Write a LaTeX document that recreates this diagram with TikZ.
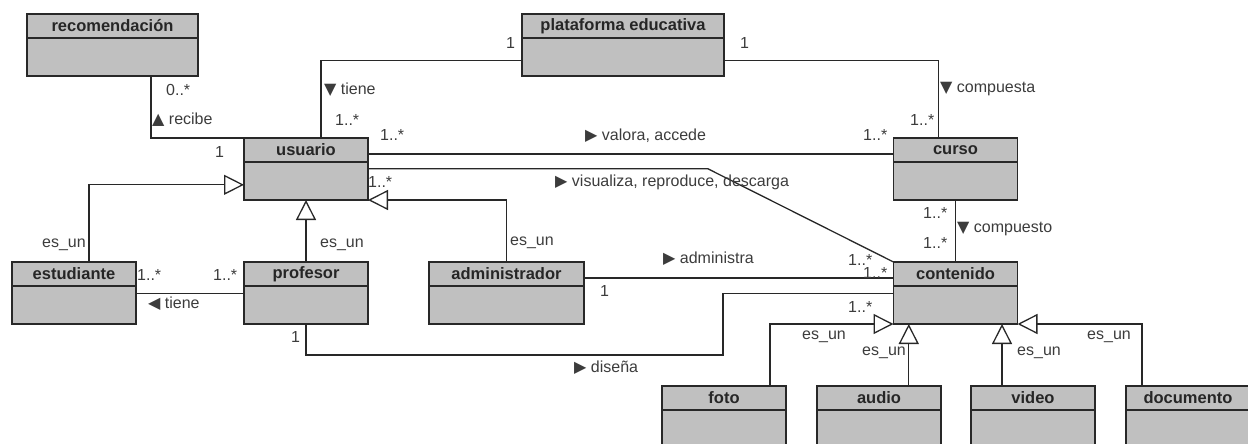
\documentclass[tikz,border=0pt]{standalone}
\usepackage{fontspec}
\setmainfont{Liberation Sans}
\newfontfamily\symfont{DejaVu Sans}
\usetikzlibrary{positioning}
\usetikzlibrary{calc}
\usetikzlibrary{arrows.meta}
\definecolor{boxgray}{RGB}{192,192,192}
\definecolor{linegray}{RGB}{40,40,40}
\definecolor{textgray}{RGB}{60,60,60}
\newcommand{\dirsym}[1]{{\symfont\fontsize{16}{16}\selectfont #1}}

\begin{document}
\begin{tikzpicture}
        [
            x=1pt, y=-1pt,
            head/.style={rectangle, draw=linegray, line width=1.3pt, fill=boxgray, minimum width=124pt, minimum height=24pt, inner sep=0pt, outer sep=0pt, font=\fontsize{16.5}{18}\selectfont\bfseries, text=black!85},
            body/.style={rectangle, draw=linegray, line width=1.3pt, fill=boxgray, minimum width=124pt, minimum height=38pt, outer sep=0pt},
            lbl/.style={anchor=west, inner sep=0pt, font=\fontsize{16}{18}\selectfont, text=textgray},
            assoc/.style={draw=linegray, line width=1.3pt},
            isa/.style={assoc, -{Triangle[open, length=20pt, width=20pt]}}
        ]
        \useasboundingbox (0,0) rectangle (1248,444);
        %nodes
        \node[head, minimum width=171pt] at (112.5,26)    (rec)           {recomendación};
        \node[body, minimum width=171pt, below=0cm of rec] (rec_b)    {};
        \node[head, minimum width=202pt] at (623,26)      (plat)          {plataforma educativa};
        \node[body, minimum width=202pt, below=0cm of plat] (plat_b)  {};
        \node[head] at (306,150)                          (usuario)       {usuario};
        \node[body, below=0cm of usuario]                 (usuario_b)     {};
        \node[head] at (955.5,150)                        (curso)         {curso};
        \node[body, below=0cm of curso]                   (curso_b)       {};
        \node[head] at (74,274)                           (estudiante)    {estudiante};
        \node[body, below=0cm of estudiante]              (estudiante_b)  {};
        \node[head] at (306,274)                          (profesor)      {profesor};
        \node[body, below=0cm of profesor]                (profesor_b)    {};
        \node[head, minimum width=155pt] at (506.5,274)   (admin)         {administrador};
        \node[body, minimum width=155pt, below=0cm of admin] (admin_b) {};
        \node[head] at (955.5,274)                        (contenido)     {contenido};
        \node[body, below=0cm of contenido]               (contenido_b)   {};
        \node[head] at (724,398)                          (foto)          {foto};
        \node[body, below=0cm of foto]                    (foto_b)        {};
        \node[head] at (879,398)                          (audio)         {audio};
        \node[body, below=0cm of audio]                   (audio_b)       {};
        \node[head] at (1033,398)                         (video)         {video};
        \node[body, below=0cm of video]                   (video_b)       {};
        \node[head] at (1188,398)                         (documento)     {documento};
        \node[body, below=0cm of documento]               (documento_b)   {};
        %arrows
        \draw[assoc] ($(rec_b.south west)!0.725!(rec_b.south east)$) |- (usuario.north west);
        \draw[assoc] ($(usuario.north west)!0.62!(usuario.north east)$) |- ($(plat_b.north west)!0.6!(plat_b.south west)$);
        \draw[assoc] ($(plat_b.north east)!0.6!(plat_b.south east)$) -| ($(curso.north west)!0.36!(curso.north east)$);
        \draw[assoc] ($(usuario.north east)!0.67!(usuario.south east)$) -- ($(curso.north west)!0.67!(curso.south west)$);
        \draw[assoc] ($(usuario_b.north east)!0.18!(usuario_b.south east)$) -- ++(340,0) -- (contenido.north west);
        \draw[assoc] ($(estudiante_b.north east)!0.2!(estudiante_b.south east)$) -- ($(profesor_b.north west)!0.2!(profesor_b.south west)$);
        \draw[assoc] ($(admin.north east)!0.67!(admin.south east)$) -- ($(contenido.north west)!0.67!(contenido.south west)$);
        \draw[assoc] (profesor_b.south) -- ++(0,31) -- ++(417,0) |- ($(contenido_b.north west)!0.2!(contenido_b.south west)$);
        \draw[assoc] (curso_b.south) -- (contenido.north);
        \draw[isa] ($(estudiante.north west)!0.62!(estudiante.north east)$) |- ($(usuario_b.north west)!0.6!(usuario_b.south west)$);
        \draw[isa] (profesor.north) -- (usuario_b.south);
        \draw[isa] (admin.north) |- (usuario_b.south east);
        \draw[isa] ($(foto.north west)!0.87!(foto.north east)$) |- (contenido_b.south west);
        \coordinate (audio_up) at ($(audio.north west)!0.74!(audio.north east)$);
        \draw[isa] (audio_up) -- (audio_up |- contenido_b.south);
        \coordinate (video_up) at ($(video.north west)!0.25!(video.north east)$);
        \draw[isa] (video_up) -- (video_up |- contenido_b.south);
        \draw[isa] ($(documento.north west)!0.13!(documento.north east)$) |- (contenido_b.south east);
        %labels
        \node[lbl] at (166,90)    (m_rec)      {0..*};
        \node[lbl] at (152,120)   (n_recibe)   {\dirsym{▲} recibe};
        \node[lbl] at (215,152)   (m_rec_u)    {1};
        \node[lbl] at (506,43)    (m_plat_l)   {1};
        \node[lbl] at (324,90)    (n_tiene)    {\dirsym{▼} tiene};
        \node[lbl] at (335,120)   (m_plat_u)   {1..*};
        \node[lbl] at (740,43)    (m_plat_r)   {1};
        \node[lbl] at (940,89)    (n_compuesta) {\dirsym{▼} compuesta};
        \node[lbl] at (910,120)   (m_plat_c)   {1..*};
        \node[lbl] at (380,135)   (m_val_u)    {1..*};
        \node[lbl] at (585,136)   (n_valora)   {\dirsym{▶} valora, accede};
        \node[lbl] at (863,135)   (m_val_c)    {1..*};
        \node[lbl] at (368,182)   (m_vis_u)    {1..*};
        \node[lbl] at (555,182)   (n_visualiza) {\dirsym{▶} visualiza, reproduce, descarga};
        \node[lbl] at (848,260)   (m_vis_c)    {1..*};
        \node[lbl] at (42,245)    (e_est)      {es\_un};
        \node[lbl] at (320,245)   (e_prof)     {es\_un};
        \node[lbl] at (510,243)   (e_admin)    {es\_un};
        \node[lbl] at (137,275)   (m_tiene_e)  {1..*};
        \node[lbl] at (213,275)   (m_tiene_p)  {1..*};
        \node[lbl] at (148,304)   (n_tiene_p)  {\dirsym{◀} tiene};
        \node[lbl] at (600,291)   (m_adm_a)    {1};
        \node[lbl] at (663,259)   (n_administra) {\dirsym{▶} administra};
        \node[lbl] at (863,273)   (m_adm_c)    {1..*};
        \node[lbl] at (291,337)   (m_dis_p)    {1};
        \node[lbl] at (574,368)   (n_disena)   {\dirsym{▶} diseña};
        \node[lbl] at (848,307)   (m_dis_c)    {1..*};
        \node[lbl] at (923,213)   (m_comp_c)   {1..*};
        \node[lbl] at (957,229)   (n_compuesto) {\dirsym{▼} compuesto};
        \node[lbl] at (923,243)   (m_comp_k)   {1..*};
        \node[lbl] at (802,337)   (e_foto)     {es\_un};
        \node[lbl] at (862,353)   (e_audio)    {es\_un};
        \node[lbl] at (1017,353)  (e_video)    {es\_un};
        \node[lbl] at (1087,337)  (e_doc)      {es\_un};
    \end{tikzpicture}
\end{document}
